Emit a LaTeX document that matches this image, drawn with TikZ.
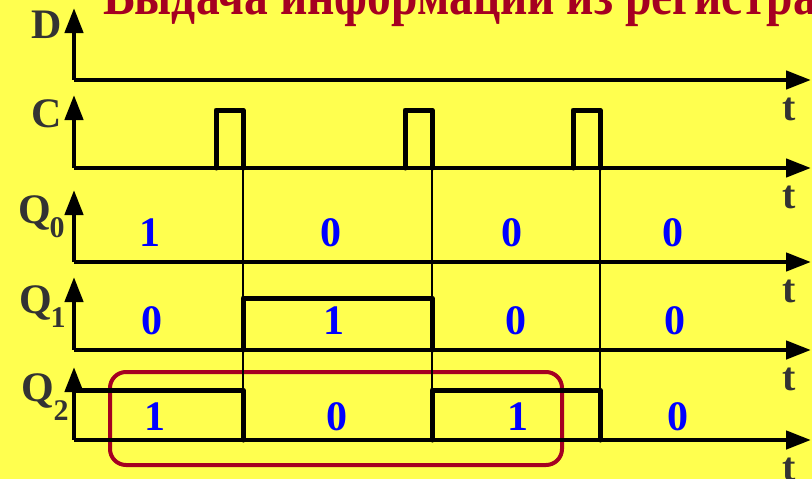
\documentclass[tikz,border=0pt]{standalone}
\usepackage{fontspec}
\setmainfont{Liberation Serif}
\usetikzlibrary{arrows.meta}
\definecolor{bgyellow}{HTML}{FFFF4F}
\definecolor{titlered}{HTML}{A50021}
\definecolor{labgray}{HTML}{333333}
\definecolor{digblue}{HTML}{0000FF}
\tikzset{
  axis/.style={line width=4.5pt, -{Triangle[length=25pt,width=18pt]}},
  sig/.style={line width=5pt, line join=round, line cap=round},
  thin/.style={line width=2pt},
  axlab/.style={text=labgray, font=\fontsize{42}{42}\selectfont\bfseries, inner sep=0pt, anchor=base},
  sublab/.style={text=labgray, font=\fontsize{30}{30}\selectfont\bfseries, inner sep=0pt, anchor=base},
  tlab/.style={text=labgray, font=\fontsize{40}{40}\selectfont\bfseries, inner sep=0pt, anchor=base},
  dig/.style={text=digblue, font=\fontsize{42}{42}\selectfont\bfseries, inner sep=0pt, anchor=base},
  hilite/.style={draw=titlered, line width=4pt, rounded corners=16pt}
}
\begin{document}
\begin{tikzpicture}[x=1pt,y=-1pt]
\useasboundingbox (0,0) rectangle (812,479);
\clip (0,0) rectangle (812,479);
\fill[bgyellow] (0,0) rectangle (812,479);
% title
\node[anchor=base west, text=titlered, font=\fontsize{47.5}{47.5}\selectfont\bfseries, inner sep=0pt, yscale=1.2] (title) at (103,15) {Выдача информации из регистра};
% axis coordinates
\foreach \n/\base/\tip in {D/80/8, C/168/95, Q0/262/190, Q1/350/277, Q2/440/367}{
  \coordinate (o\n) at (74,\base);
  \coordinate (v\n) at (74,\tip);
  \coordinate (h\n) at (811,\base);
}
% highlight box (behind signals)
\draw[hilite] (110,372) rectangle (562,465);
% thin guide lines
\foreach \x in {243,432,600}{
  \coordinate (gt\x) at (\x,168);
  \coordinate (gb\x) at (\x,390);
  \draw[thin] (gt\x) -- (gb\x);
}
% axes
\foreach \n in {D,C,Q0,Q1,Q2}{
  \draw[axis] (o\n) -- (v\n);
  \draw[axis] (o\n) -- (h\n);
}
% clock pulses
\draw[sig] (216,168) -- (216,110) -- (243,110) -- (243,168);
\draw[sig] (405,168) -- (405,110) -- (432,110) -- (432,168);
\draw[sig] (573,168) -- (573,110) -- (600,110) -- (600,168);
% Q1
\draw[sig] (243,350) -- (243,298) -- (432,298) -- (432,350);
% Q2
\draw[sig] (76,390) -- (243,390) -- (243,440);
\draw[sig] (432,440) -- (432,390) -- (600,390) -- (600,440);
% axis labels
\node[axlab] (lD) at (47,38) {D};
\node[axlab] (lC) at (47,127) {C};
\node[axlab] (lQ0) at (35,223) {Q};
\node[sublab] (sQ0) at (57,237) {0};
\node[axlab] (lQ1) at (36,313) {Q};
\node[sublab] (sQ1) at (58,327) {1};
\node[axlab] (lQ2) at (38,401) {Q};
\node[sublab] (sQ2) at (61,420) {2};
% t labels
\foreach \b [count=\i] in {80,168,262,350,440}{
  \node[tlab] (t\i) at (789,\b+40) {t};
}
% digits
\node[dig] (a1) at (150,246) {1};
\node[dig] (a2) at (331,246) {0};
\node[dig] (a3) at (512,246) {0};
\node[dig] (a4) at (673,246) {0};
\node[dig] (b1) at (152,334) {0};
\node[dig] (b2) at (334,334) {1};
\node[dig] (b3) at (516,334) {0};
\node[dig] (b4) at (675,334) {0};
\node[dig] (c1) at (155,430) {1};
\node[dig] (c2) at (337,430) {0};
\node[dig] (c3) at (518,430) {1};
\node[dig] (c4) at (678,430) {0};
\end{tikzpicture}
\end{document}
